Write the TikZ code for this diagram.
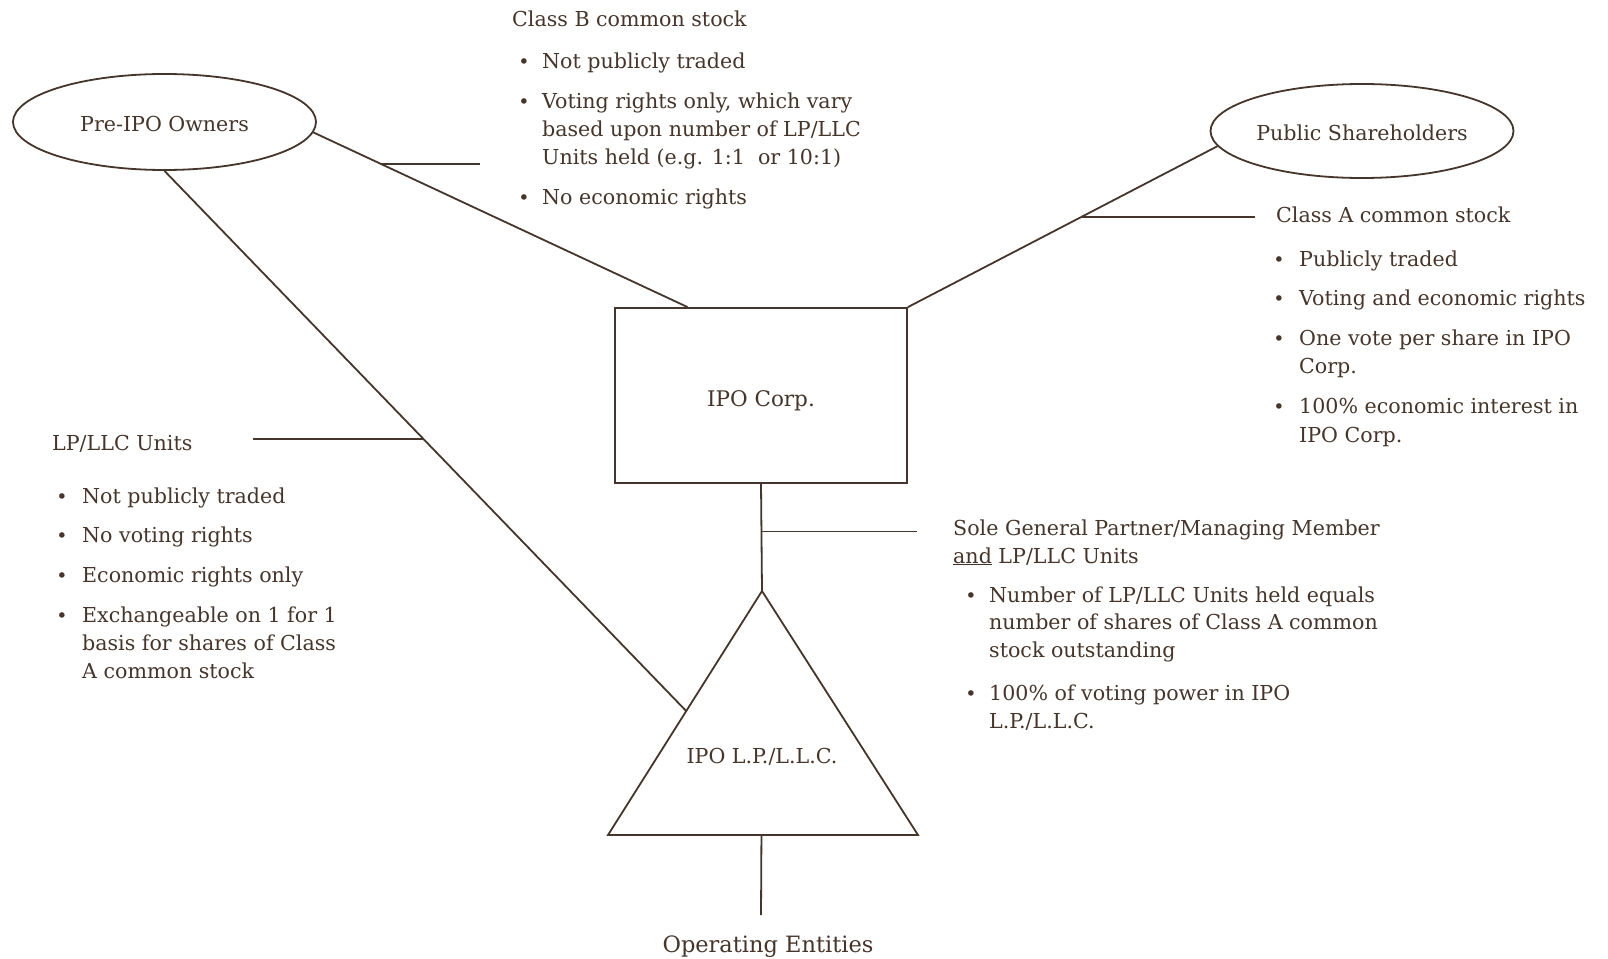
\documentclass[tikz,border=0pt]{standalone}
\usepackage{fontspec}
\setmainfont{DejaVu Serif}
\usetikzlibrary{shapes.geometric,calc}
\definecolor{ink}{HTML}{45352A}
\begin{document}
\begin{tikzpicture}[x=1pt,y=-1pt,
  ln/.style={draw=ink,line width=1.8pt},
  txt/.style={anchor=base west,inner sep=0pt,text=ink,font=\fontsize{20.6}{28}\selectfont},
  ctxt/.style={txt,anchor=base},
  bul/.style={anchor=base,inner sep=0pt,text=ink,font=\fontsize{19}{19}\selectfont}
]
\fill[white] (0,0) rectangle (1608,958);
\useasboundingbox (0,0) rectangle (1608,958);

% shapes
\node[ln,ellipse,minimum width=303pt,minimum height=96pt,inner sep=0pt] (pre) at (164.5,122) {};
\node[ln,ellipse,minimum width=303pt,minimum height=94pt,inner sep=0pt] (pub) at (1362,131) {};
\node[ln,rectangle,minimum width=292pt,minimum height=175pt,inner sep=0pt] (corp) at (761,395.5) {};
\coordinate (tA) at (762,591);
\coordinate (tL) at (608,835);
\coordinate (tR) at (918,835);
\draw[ln,line join=miter] (tA) -- (tL) -- (tR) -- cycle;

% shape labels
\node[ctxt] (preT) at (164.5,131) {Pre-IPO Owners};
\node[ctxt] (pubT) at (1362,140) {Public Shareholders};
\node[ctxt,font=\fontsize{21.5}{28}\selectfont] (corpT) at (761,406) {IPO Corp.};
\node[ctxt] (triT) at (762,763) {IPO L.P./L.L.C.};
\node[ctxt,font=\fontsize{22.5}{28}\selectfont] (ops) at (768,952) {Operating Entities};

% helper coordinates
\coordinate (c1) at ($(corp.north west)!0.25!(corp.north east)$);
\coordinate (tS) at ($(tA)!0.492!(tL)$);
\coordinate (tB) at ($(tL)!0.495!(tR)$);
\coordinate (opsTop) at (761,915);
\coordinate (t1e) at (480,0);
\coordinate (t2e) at (1255,0);
\coordinate (t3e) at (917,0);
\coordinate (t4e) at (253,0);

% connectors
\draw[ln] (pre.-4) -- coordinate[pos=0.179] (k1) (c1);
\draw[ln] (k1) -- (k1 -| t1e);
\draw[ln] (pub.186) -- coordinate[pos=0.438] (k2) (corp.north east);
\draw[ln] (k2) -- (k2 -| t2e);
\draw[ln] (corp.south) -- coordinate[pos=0.444] (k3) (tA);
\draw[ln] (k3) -- (k3 -| t3e);
\draw[ln] (pre.south) -- coordinate[pos=0.497] (k4) (tS);
\draw[ln] (k4) -- (k4 -| t4e);
\draw[ln] (tB) -- (opsTop);

% Class B block
\node[txt] (cbH) at (512,27) {Class B common stock};
\node[bul] (cbb1) at (524,68) {\textbullet};
\node[txt] (cb1) at (542,68) {Not publicly traded};
\node[bul] (cbb2) at (524,108) {\textbullet};
\node[txt] (cb2a) at (542,108) {Voting rights only, which vary};
\node[txt] (cb2b) at (542,136) {based upon number of LP/LLC};
\node[txt] (cb2c) at (542,164) {Units held (e.g. 1:1\ \ or 10:1)};
\node[bul] (cbb3) at (524,204) {\textbullet};
\node[txt] (cb3) at (542,204) {No economic rights};

% Class A block
\node[txt] (caH) at (1276,222) {Class A common stock};
\node[bul] (cab1) at (1279,266) {\textbullet};
\node[txt] (ca1) at (1299,266) {Publicly traded};
\node[bul] (cab2) at (1279,305) {\textbullet};
\node[txt] (ca2) at (1299,305) {Voting and economic rights};
\node[bul] (cab3) at (1279,345) {\textbullet};
\node[txt] (ca3a) at (1299,345) {One vote per share in IPO};
\node[txt] (ca3b) at (1299,373) {Corp.};
\node[bul] (cab4) at (1279,413) {\textbullet};
\node[txt] (ca4a) at (1299,413) {100\% economic interest in};
\node[txt] (ca4b) at (1299,442) {IPO Corp.};

% LP/LLC block
\node[txt] (lpH) at (52,450) {LP/LLC Units};
\node[bul] (lpb1) at (62,503) {\textbullet};
\node[txt] (lp1) at (82,503) {Not publicly traded};
\node[bul] (lpb2) at (62,542) {\textbullet};
\node[txt] (lp2) at (82,542) {No voting rights};
\node[bul] (lpb3) at (62,582) {\textbullet};
\node[txt] (lp3) at (82,582) {Economic rights only};
\node[bul] (lpb4) at (62,622) {\textbullet};
\node[txt] (lp4a) at (82,622) {Exchangeable on 1 for 1};
\node[txt] (lp4b) at (82,650) {basis for shares of Class};
\node[txt] (lp4c) at (82,678) {A common stock};

% Sole GP block
\node[txt] (sgH1) at (953,535) {Sole General Partner/Managing Member};
\node[txt] (sgH2) at (953,563) {\underline{and} LP/LLC Units};
\node[bul] (sgb1) at (971,602) {\textbullet};
\node[txt] (sg1a) at (989,602) {Number of LP/LLC Units held equals};
\node[txt] (sg1b) at (989,629) {number of shares of Class A common};
\node[txt] (sg1c) at (989,657) {stock outstanding};
\node[bul] (sgb2) at (971,700) {\textbullet};
\node[txt] (sg2a) at (989,700) {100\% of voting power in IPO};
\node[txt] (sg2b) at (989,728) {L.P./L.L.C.};
\end{tikzpicture}
\end{document}
